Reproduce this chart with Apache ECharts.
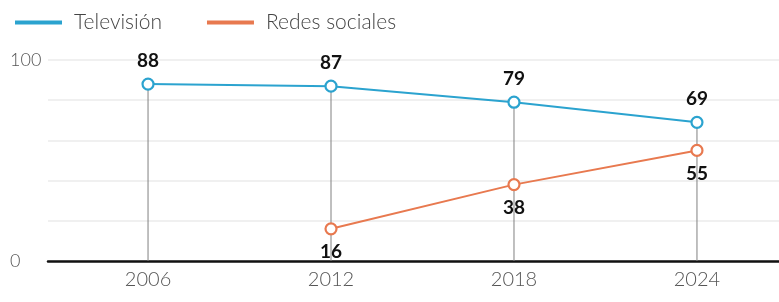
<!DOCTYPE html>
<html>
<head>
<meta charset="utf-8">
<script src="https://cdn.jsdelivr.net/npm/echarts@6/dist/echarts.min.js"></script>
<style>html,body{margin:0;padding:0;background:#fff}#c{width:779px;height:302px}</style>
</head>
<body>
<div id="c"></div>
<script>
const years = [2006, 2012, 2018, 2024];
const television = [88, 87, 79, 69];
const redesYears = [2012, 2018, 2024];
const redesSociales = [16, 38, 55];
const yTickLabels = [0, 100];

const blue = '#2ba3cf';
const orange = '#e8794f';
const font = 'Lato';

const chart = echarts.init(document.getElementById('c'));
chart.setOption({
  animation: false,
  textStyle: { fontFamily: font },
  legend: {
    left: 10, top: 7,
    itemWidth: 45, itemHeight: 2, itemGap: 45,
    icon: 'rect',
    textStyle: { fontSize: 21, fontWeight: 300, color: '#444', fontFamily: font, padding: [0, 0, 0, 8] },
    data: ['Televisión', 'Redes sociales']
  },
  grid: { left: 48, right: 0, top: 60, bottom: 41 },
  xAxis: {
    type: 'value', min: 2002.72, max: 2026.69,
    axisLine: { show: true, lineStyle: { color: '#111', width: 2.5 } },
    axisTick: { show: false },
    splitLine: { show: false },
    axisLabel: { customValues: years, formatter: v => String(v), color: '#555', fontSize: 20, fontWeight: 300, margin: 9, fontFamily: font }
  },
  yAxis: {
    type: 'value', min: 0, max: 100, interval: 20,
    axisLine: { show: false }, axisTick: { show: false },
    splitLine: { lineStyle: { color: '#ebebeb', width: 1.5 } },
    axisLabel: {
      align: 'left', margin: 38, color: '#555', fontSize: 18, fontWeight: 300, fontFamily: font,
      formatter: v => yTickLabels.includes(v) ? String(v) : ''
    }
  },
  series: [
    {
      name: 'drop', type: 'bar', barWidth: 1, silent: true, z: 1,
      itemStyle: { color: '#808080' },
      data: television.map((v, i) => [years[i], v])
    },
    {
      name: 'Televisión', type: 'line', z: 3,
      data: television.map((v, i) => [years[i], v]),
      symbol: 'circle', symbolSize: 11,
      lineStyle: { color: blue, width: 2 },
      itemStyle: { color: '#fff', borderColor: blue, borderWidth: 2.2 },
      label: { show: true, position: 'top', distance: 7, fontSize: 19, fontWeight: 'bold', color: '#111', fontFamily: font }
    },
    {
      name: 'Redes sociales', type: 'line', z: 3,
      data: redesSociales.map((v, i) => [redesYears[i], v]),
      symbol: 'circle', symbolSize: 11,
      lineStyle: { color: orange, width: 2 },
      itemStyle: { color: '#fff', borderColor: orange, borderWidth: 2.2 },
      label: { show: true, position: 'bottom', distance: 7, fontSize: 19, fontWeight: 'bold', color: '#111', fontFamily: font }
    }
  ],
  color: ['#808080', blue, orange]
});
</script>
</body>
</html>
